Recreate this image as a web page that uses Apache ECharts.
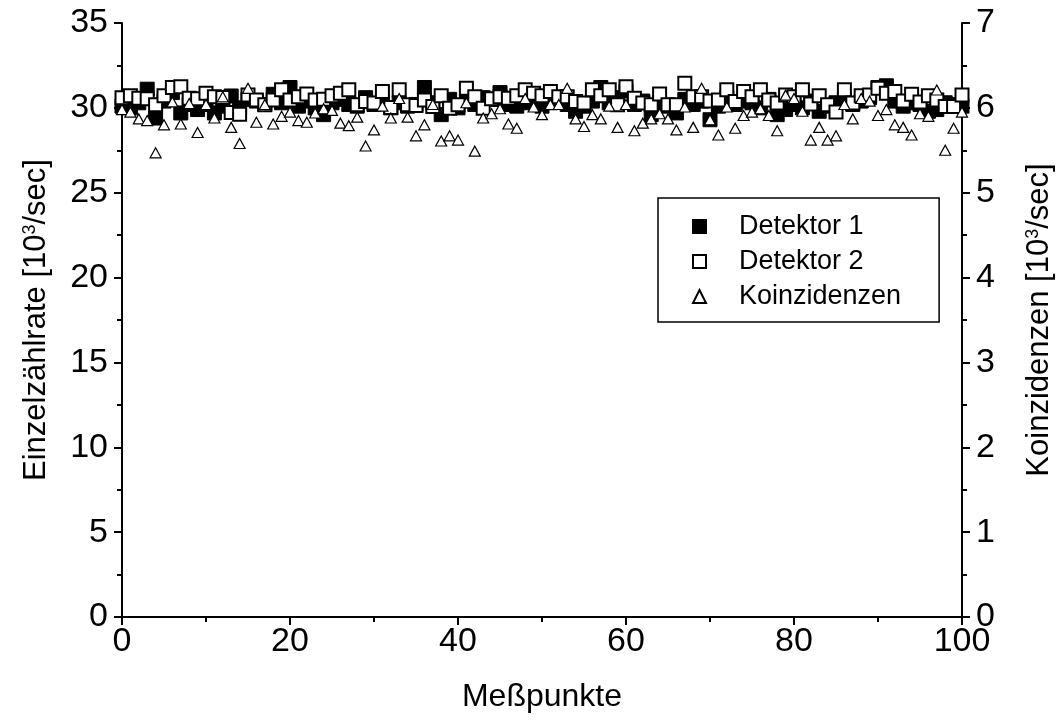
<!DOCTYPE html>
<html>
<head>
<meta charset="utf-8">
<script src="https://cdn.jsdelivr.net/npm/echarts@6/dist/echarts.min.js"></script>
<style>
  html, body { margin: 0; padding: 0; background: #fff; }
  #chart { width: 1060px; height: 722px; }
</style>
</head>
<body>
<div id="chart"></div>
<script>
// Measurement index 0..100
const messpunkte = Array.from({ length: 101 }, (_, i) => i);

// Single count rate, detector 1 [10^3/sec]
const detektor1 = [
  30.1, 30.0, 30.3, 31.1, 29.4, 30.4, 30.9, 29.7, 30.2, 29.9,
  30.2, 29.7, 30.1, 30.7, 30.0, 30.5, 30.4, 30.2, 30.8, 30.3,
  31.2, 30.1, 30.4, 30.0, 29.6, 30.3, 30.5, 30.2, 30.1, 30.6,
  30.2, 30.4, 30.0, 30.3, 30.1, 30.2, 31.2, 30.3, 29.6, 30.5,
  30.0, 30.4, 30.2, 30.6, 30.5, 30.9, 30.2, 30.1, 30.3, 30.4,
  30.1, 30.3, 30.5, 30.2, 29.8, 30.1, 30.4, 31.2, 30.3, 30.6,
  31.0, 30.2, 30.4, 29.6, 30.3, 30.1, 29.7, 30.5, 30.2, 30.4,
  29.3, 30.1, 30.6, 30.2, 30.4, 30.3, 30.0, 30.5, 29.6, 29.9,
  30.2, 30.0, 30.4, 29.8, 30.1, 30.3, 30.5, 30.2, 30.4, 30.6,
  31.2, 31.3, 30.4, 30.1, 30.3, 30.2, 29.8, 29.9, 30.3, 30.2,
  30.1
];

// Single count rate, detector 2 [10^3/sec]
const detektor2 = [
  30.60, 30.72, 30.57, 30.53, 30.18, 30.72, 31.20, 31.25, 30.57, 30.53,
  30.86, 30.66, 30.61, 29.72, 29.63, 30.76, 30.47, 30.18, 30.47, 31.06,
  30.47, 30.66, 30.82, 30.47, 30.51, 30.72, 30.86, 31.06, 30.18, 30.37,
  30.28, 30.96, 30.02, 31.06, 30.18, 30.14, 30.47, 30.08, 30.72, 29.98,
  30.18, 31.16, 30.66, 29.98, 30.53, 30.66, 30.57, 30.72, 31.06, 30.86,
  30.72, 30.96, 30.66, 30.66, 30.37, 30.28, 31.06, 30.72, 31.06, 30.18,
  31.25, 30.57, 30.28, 30.18, 30.82, 30.18, 30.18, 31.45, 30.66, 30.66,
  30.40, 30.47, 31.06, 30.37, 30.96, 30.66, 31.06, 30.47, 30.28, 30.76,
  30.66, 31.06, 30.22, 30.72, 30.18, 29.75, 31.06, 30.28, 30.72, 30.76,
  31.16, 30.86, 30.96, 30.41, 30.80, 30.34, 30.72, 30.47, 30.08, 30.08,
  30.76
];

// Coincidence rate [10^3/sec], right axis
const koinzidenzen = [
  5.98, 5.95, 5.87, 5.85, 5.47, 5.80, 6.07, 5.81, 6.05, 5.71,
  6.04, 5.88, 6.13, 5.77, 5.58, 6.23, 5.83, 6.04, 5.81, 5.90,
  5.95, 5.85, 5.83, 5.94, 5.99, 5.97, 5.82, 5.79, 5.89, 5.55,
  5.74, 6.02, 5.88, 6.11, 5.89, 5.67, 5.80, 6.04, 5.61, 5.67,
  5.62, 6.06, 5.49, 5.88, 5.93, 5.99, 5.81, 5.76, 6.11, 6.01,
  5.92, 6.04, 6.04, 6.23, 5.87, 5.78, 5.92, 5.87, 6.02, 5.77,
  6.04, 5.73, 5.82, 5.87, 5.93, 5.87, 5.74, 6.01, 5.77, 6.23,
  5.86, 5.68, 6.01, 5.76, 5.91, 5.95, 5.99, 5.91, 5.73, 6.15,
  6.11, 5.96, 5.62, 5.77, 5.62, 5.67, 6.04, 5.87, 6.11, 6.08,
  5.91, 5.98, 5.80, 5.77, 5.68, 5.93, 5.90, 6.21, 5.50, 5.76,
  5.95
];

const FONT = '"Liberation Sans", Arial, sans-serif';
const pair = (ys) => messpunkte.map((x, i) => [x, ys[i]]);

const axisLine = { show: true, onZero: false, lineStyle: { color: '#000', width: 2 } };
const tickStyle = { color: '#000', width: 2 };
const labelStyle = { color: '#000', fontSize: 34, fontFamily: FONT };
const nameRich = {
  a: { fontSize: 31, fontFamily: FONT, color: '#000' },
  s: { fontSize: 18, fontFamily: FONT, color: '#000', verticalAlign: 'top', padding: [0, 0, 12, 0] }
};

const chart = echarts.init(document.getElementById('chart'), null, { renderer: 'canvas' });

chart.setOption({
  backgroundColor: '#fff',
  animation: false,
  grid: { left: 122, right: 98, top: 23, bottom: 105, containLabel: false, outerBoundsMode: 'none' },
  legend: {
    orient: 'vertical',
    left: 658,
    top: 198,
    padding: [15, 38, 12, 34],
    itemGap: 8,
    itemWidth: 13,
    itemHeight: 13,
    borderColor: '#000',
    borderWidth: 1.5,
    borderRadius: 0,
    textStyle: { color: '#000', fontSize: 27, fontFamily: FONT, padding: [0, 0, 0, 28] },
    data: [
      { name: 'Detektor 1', icon: 'rect' },
      { name: 'Detektor 2', icon: 'rect' },
      { name: 'Koinzidenzen', icon: 'triangle' }
    ]
  },
  xAxis: {
    type: 'value',
    min: 0, max: 100, interval: 20,
    name: 'Meßpunkte',
    nameLocation: 'middle',
    nameGap: 64,
    nameTextStyle: { color: '#000', fontSize: 32, fontFamily: FONT },
    axisLine: axisLine,
    axisTick: { show: true, inside: false, length: 8, lineStyle: tickStyle },
    minorTick: { show: true, splitNumber: 2, length: 5, lineStyle: tickStyle },
    axisLabel: Object.assign({ margin: 8 }, labelStyle),
    splitLine: { show: false }
  },
  yAxis: [
    {
      type: 'value',
      position: 'left',
      min: 0, max: 35, interval: 5,
      name: '{a|Einzelzählrate [10}{s|3}{a|/sec]}',
      nameLocation: 'middle',
      nameGap: 70,
      nameRotate: 90,
      nameTextStyle: { rich: nameRich },
      axisLine: axisLine,
      axisTick: { show: true, inside: false, length: 8, lineStyle: tickStyle },
      minorTick: { show: true, splitNumber: 2, length: 5, lineStyle: tickStyle },
      axisLabel: Object.assign({ margin: 14 }, labelStyle),
      splitLine: { show: false }
    },
    {
      type: 'value',
      position: 'right',
      min: 0, max: 7, interval: 1,
      name: '{a|Koinzidenzen [10}{s|3}{a|/sec]}',
      nameLocation: 'middle',
      nameGap: 62,
      nameRotate: 90,
      nameTextStyle: { rich: nameRich },
      axisLine: axisLine,
      axisTick: { show: true, inside: false, length: 8, lineStyle: tickStyle },
      minorTick: { show: true, splitNumber: 2, length: 5, lineStyle: tickStyle },
      axisLabel: Object.assign({ margin: 14 }, labelStyle),
      splitLine: { show: false }
    }
  ],
  series: [
    {
      name: 'Detektor 1',
      type: 'scatter',
      yAxisIndex: 0,
      symbol: 'rect',
      symbolSize: 14,
      itemStyle: { color: '#000', borderColor: '#000', borderWidth: 1, opacity: 1 },
      data: pair(detektor1),
      z: 2
    },
    {
      name: 'Detektor 2',
      type: 'scatter',
      yAxisIndex: 0,
      symbol: 'rect',
      symbolSize: 13,
      itemStyle: { color: '#fff', borderColor: '#000', borderWidth: 2, opacity: 1 },
      data: pair(detektor2),
      z: 3
    },
    {
      name: 'Koinzidenzen',
      type: 'scatter',
      yAxisIndex: 1,
      symbol: 'triangle',
      symbolSize: [11, 10],
      itemStyle: { color: '#fff', borderColor: '#000', borderWidth: 1.2, opacity: 1 },
      data: pair(koinzidenzen),
      z: 4
    }
  ]
});
</script>
</body>
</html>
